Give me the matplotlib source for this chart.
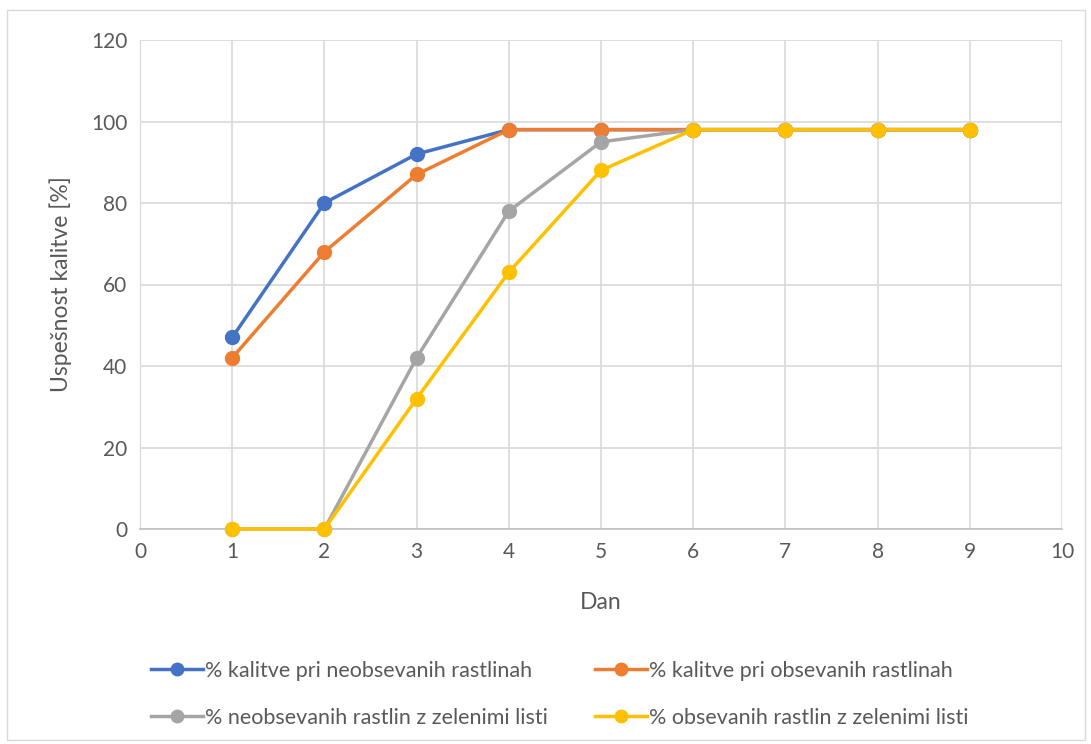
import matplotlib.pyplot as plt
from matplotlib.patches import Rectangle

plt.rcParams['font.family'] = ['Lato', 'DejaVu Sans']

dan = [1, 2, 3, 4, 5, 6, 7, 8, 9]
kalitev_neobs = [47, 80, 92, 98, 98, 98, 98, 98, 98]
kalitev_obs = [42, 68, 87, 98, 98, 98, 98, 98, 98]
zeleni_neobs = [0, 0, 42, 78, 95, 98, 98, 98, 98]
zeleni_obs = [0, 0, 32, 63, 88, 98, 98, 98, 98]

labels = ['% kalitve pri neobsevanih rastlinah',
          '% kalitve pri obsevanih rastlinah',
          '% neobsevanih rastlin z zelenimi listi',
          '% obsevanih rastlin z zelenimi listi']
colors = ['#4472C4', '#ED7D31', '#A5A5A5', '#FFC000']

fig = plt.figure(figsize=(10.91, 7.44), dpi=100)
fig.patches.append(Rectangle((7 / 1091, 4 / 744), 1078 / 1091, 730 / 744,
                             transform=fig.transFigure, fill=False,
                             edgecolor='#D9D9D9', linewidth=1))
ax = fig.add_axes([140 / 1091, 215 / 744, 922 / 1091, 489 / 744])

series = [kalitev_neobs, kalitev_obs, zeleni_neobs, zeleni_obs]
handles = []
for vals, lab, col in zip(series, labels, colors):
    h, = ax.plot(dan, vals, color=col, linewidth=2.5, marker='o', markersize=10,
                 label=lab, zorder=3, clip_on=False)
    handles.append(h)

ax.set_xlim(0, 10)
ax.set_ylim(0, 120)
ax.set_xticks(range(0, 11))
ax.set_yticks(range(0, 121, 20))
ax.grid(True, color='#D9D9D9', linewidth=1.2)
ax.set_axisbelow(True)
for s in ['top', 'right']:
    ax.spines[s].set_visible(False)
ax.spines['left'].set_color('#D9D9D9')
ax.spines['bottom'].set_color('#BFBFBF')
ax.spines['bottom'].set_linewidth(1.2)
ax.tick_params(length=0, labelsize=15, labelcolor='#595959', pad=9)
ax.set_xlabel('Dan', fontsize=16.5, color='#595959', labelpad=22)
ax.set_ylabel('Uspešnost kalitve [%]', fontsize=16.5, color='#595959', labelpad=14)

# legenda po vrsticah
order = [0, 2, 1, 3]
fig.legend([handles[i] for i in order], [labels[i] for i in order],
           loc='lower left', bbox_to_anchor=(132 / 1091, -3 / 744), ncol=2,
           frameon=False, fontsize=15.5, labelcolor='#595959',
           handlelength=2.4, handletextpad=0.1, columnspacing=2.2,
           labelspacing=1.25, markerscale=0.9)

fig.savefig('out.png', dpi=100)
